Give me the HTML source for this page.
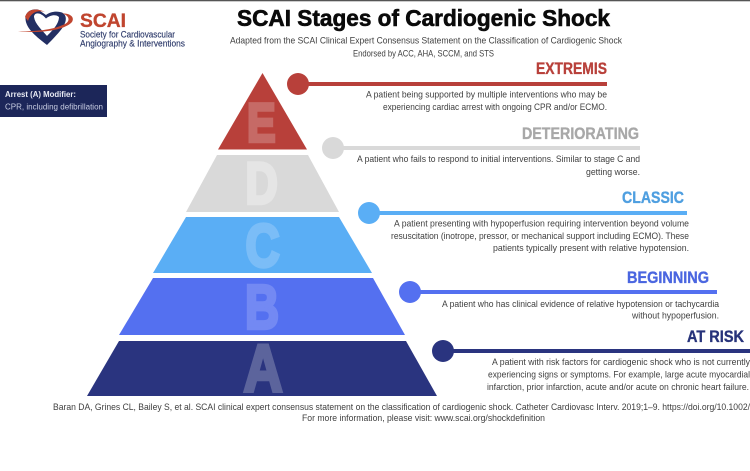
<!DOCTYPE html>
<html lang="en">
<head>
<meta charset="utf-8">
<title>SCAI Stages of Cardiogenic Shock</title>
<style>
html,body{margin:0;padding:0;background:#fff}
body{width:750px;height:471px;overflow:hidden}
svg{display:block}
text{font-family:"Liberation Sans",sans-serif}
.b{font-size:9.2px;fill:#3f3f3f}
.h{font-size:16.5px;font-weight:bold;stroke-width:.35px}
.l{font-weight:bold;stroke-width:3.5px}
.f{font-size:9.2px;fill:#3f3f3f}
</style>
</head>
<body>
<svg width="750" height="471" viewBox="0 0 750 471" xmlns="http://www.w3.org/2000/svg">
<rect width="750" height="471" fill="#fff"/>
<rect width="750" height="1.3" fill="#555"/>

<!-- logo -->
<path d="M47 45 C37 37 26 29 25.500 19 C25 12 31 8.500 38 9.500 L46 15 C50 11.500 58 10.500 63 13 C68 17 66 24 60 31 C55 37 50 42 47 45Z" fill="#232f63"/>
<path d="M47 36 C42 30 35 24 34 17 C34 12.500 40 11.500 46 18.500 C50 15 56 14 59 17 C59 24 52 31 47 36Z" fill="#fff"/>
<path d="M18 31 C38 32 55 29 65 24 C71 21 69 15 62 13.500 C70 13 75 17 72 22 C65 30 40 34 18 31Z" fill="#c0452f"/>
<path d="M25 17 C27 10 35 7 45 12 C38 10 31 12 28 21Z" fill="#c0452f"/>
<text x="80" y="27" font-size="19.500" font-weight="bold" fill="#c0452f" stroke="#c0452f" stroke-width=".3" textLength="46" lengthAdjust="spacingAndGlyphs">SCAI</text>
<text x="80" y="37.500" font-size="8.800" fill="#2f3c6c" stroke="#2f3c6c" stroke-width=".15" textLength="95" lengthAdjust="spacingAndGlyphs">Society for Cardiovascular</text>
<text x="80" y="46.500" font-size="8.800" fill="#2f3c6c" stroke="#2f3c6c" stroke-width=".15" textLength="105" lengthAdjust="spacingAndGlyphs">Angiography &amp; Interventions</text>

<!-- title -->
<text x="237" y="26" font-size="23" font-weight="bold" fill="#0a0a0a" stroke="#0a0a0a" stroke-width=".6" textLength="373" lengthAdjust="spacingAndGlyphs">SCAI Stages of Cardiogenic Shock</text>
<text class="f" x="230" y="43.500" textLength="392" lengthAdjust="spacingAndGlyphs">Adapted from the SCAI Clinical Expert Consensus Statement on the Classification of Cardiogenic Shock</text>
<text class="f" x="353" y="56.500" textLength="141" lengthAdjust="spacingAndGlyphs">Endorsed by ACC, AHA, SCCM, and STS</text>

<!-- arrest box -->
<rect x="0" y="85" width="107" height="32" fill="#1c2659"/>
<text x="5" y="97" font-size="8.500" font-weight="bold" fill="#e8eaf3" textLength="71" lengthAdjust="spacingAndGlyphs">Arrest (A) Modifier:</text>
<text x="5" y="109.500" font-size="8" fill="#c8cde2" textLength="98" lengthAdjust="spacingAndGlyphs">CPR, including defibrillation</text>

<!-- pyramid -->
<polygon points="262.500,73 307,149.500 218,149.500" fill="#b8403a"/>
<polygon points="217,155 308,155 339,212 186,212" fill="#d9d9d9"/>
<polygon points="186,217 339,217 372,273 153,273" fill="#5aaef5"/>
<polygon points="153,278 373,278 405,335 119,335" fill="#5470f0"/>
<polygon points="119,341 406,341 437,396 87,396" fill="#2a347f"/>

<text class="l" transform="translate(247 141.500) scale(.78 1)" font-size="55" fill="#c66a66" stroke="#c66a66">E</text>
<text class="l" transform="translate(245.500 203.500) scale(.77 1)" font-size="58" fill="#e5e5e5" stroke="#e5e5e5">D</text>
<text class="l" transform="translate(245.500 266.500) scale(.79 1)" font-size="60" fill="#7bbdf7" stroke="#7bbdf7">C</text>
<text class="l" transform="translate(245 328.500) scale(.76 1)" font-size="62" fill="#7389f3" stroke="#7389f3">B</text>
<text class="l" transform="translate(243.500 391.500) scale(.81 1)" font-size="67" fill="#5c649c" stroke="#5c649c">A</text>

<!-- connectors -->
<circle cx="298" cy="84" r="11" fill="#b8403a"/>
<rect x="298" y="82" width="309" height="4" fill="#b8403a"/>
<circle cx="333" cy="148" r="11" fill="#d9d9d9"/>
<rect x="333" y="146" width="307" height="4" fill="#d9d9d9"/>
<circle cx="369" cy="213" r="11" fill="#5aaef5"/>
<rect x="369" y="211" width="318" height="4" fill="#5aaef5"/>
<circle cx="410" cy="292" r="11" fill="#5470f0"/>
<rect x="410" y="290" width="307" height="4" fill="#5470f0"/>
<circle cx="443" cy="351" r="11" fill="#2a347f"/>
<rect x="443" y="349" width="307" height="4" fill="#2a347f"/>

<!-- headings -->
<text class="h" x="536" y="74" fill="#b8403a" stroke="#b8403a" textLength="71" lengthAdjust="spacingAndGlyphs">EXTREMIS</text>
<text class="h" x="522" y="139" fill="#a8a8a8" stroke="#a8a8a8" textLength="117" lengthAdjust="spacingAndGlyphs">DETERIORATING</text>
<text class="h" x="622" y="203" fill="#4f9fe0" stroke="#4f9fe0" textLength="62" lengthAdjust="spacingAndGlyphs">CLASSIC</text>
<text class="h" x="627" y="283" fill="#4a66e0" stroke="#4a66e0" textLength="82" lengthAdjust="spacingAndGlyphs">BEGINNING</text>
<text class="h" x="687" y="342" fill="#27337a" stroke="#27337a" textLength="57" lengthAdjust="spacingAndGlyphs">AT RISK</text>

<!-- body text -->
<text class="b" x="366" y="97.500" textLength="241" lengthAdjust="spacingAndGlyphs">A patient being supported by multiple interventions who may be</text>
<text class="b" x="383" y="110" textLength="224" lengthAdjust="spacingAndGlyphs">experiencing cardiac arrest with ongoing CPR and/or ECMO.</text>

<text class="b" x="357" y="162" textLength="283" lengthAdjust="spacingAndGlyphs">A patient who fails to respond to initial interventions. Similar to stage C and</text>
<text class="b" x="586" y="175" textLength="54" lengthAdjust="spacingAndGlyphs">getting worse.</text>

<text class="b" x="394" y="226.500" textLength="295" lengthAdjust="spacingAndGlyphs">A patient presenting with hypoperfusion requiring intervention beyond volume</text>
<text class="b" x="391" y="239" textLength="298" lengthAdjust="spacingAndGlyphs">resuscitation (inotrope, pressor, or mechanical support including ECMO). These</text>
<text class="b" x="493" y="251" textLength="196" lengthAdjust="spacingAndGlyphs">patients typically present with relative hypotension.</text>

<text class="b" x="442" y="307" textLength="277" lengthAdjust="spacingAndGlyphs">A patient who has clinical evidence of relative hypotension or tachycardia</text>
<text class="b" x="632" y="318.500" textLength="87" lengthAdjust="spacingAndGlyphs">without hypoperfusion.</text>

<text class="b" x="492" y="365" textLength="258" lengthAdjust="spacingAndGlyphs">A patient with risk factors for cardiogenic shock who is not currently</text>
<text class="b" x="488" y="377.500" textLength="262" lengthAdjust="spacingAndGlyphs">experiencing signs or symptoms. For example, large acute myocardial</text>
<text class="b" x="487" y="390" textLength="262" lengthAdjust="spacingAndGlyphs">infarction, prior infarction, acute and/or acute on chronic heart failure.</text>

<!-- footer -->
<text class="f" x="53" y="410" textLength="697" lengthAdjust="spacingAndGlyphs">Baran DA, Grines CL, Bailey S, et al. SCAI clinical expert consensus statement on the classification of cardiogenic shock. Catheter Cardiovasc Interv. 2019;1–9. https://doi.org/10.1002/</text>
<text class="f" x="302" y="421" textLength="243" lengthAdjust="spacingAndGlyphs">For more information, please visit: www.scai.org/shockdefinition</text>
</svg>
</body>
</html>
